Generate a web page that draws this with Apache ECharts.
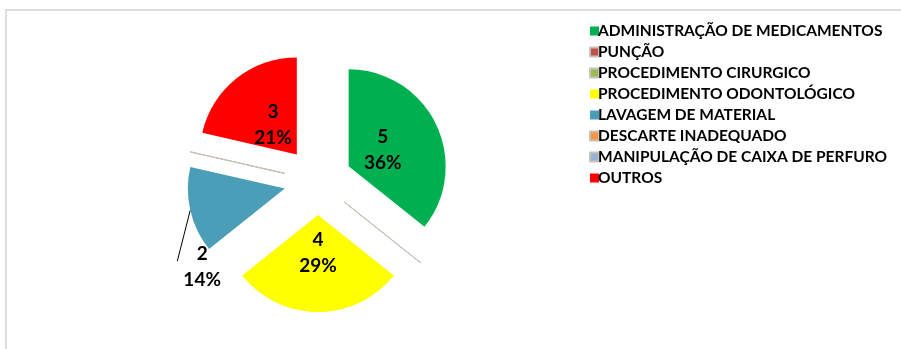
<!DOCTYPE html>
<html>
<head>
<meta charset="utf-8">
<script src="https://cdn.jsdelivr.net/npm/echarts@6/dist/echarts.min.js"></script>
<style>
  html, body { margin: 0; padding: 0; background: #ffffff; }
  #chart { position: absolute; left: 0; top: 0; width: 901px; height: 349px; }
  #frame { position: absolute; left: 5px; top: 9px; width: 896px; height: 340px;
           border-top: 2px solid #dedede; border-left: 2px solid #dedede; pointer-events: none; }
</style>
</head>
<body>
<div id="chart"></div>
<div id="frame"></div>
<script>
// Accident types and number of occurrences
const categories = [
  'ADMINISTRAÇÃO DE MEDICAMENTOS',
  'PUNÇÃO',
  'PROCEDIMENTO CIRURGICO',
  'PROCEDIMENTO ODONTOLÓGICO',
  'LAVAGEM DE MATERIAL',
  'DESCARTE INADEQUADO',
  'MANIPULAÇÃO DE CAIXA DE PERFURO',
  'OUTROS'
];
const counts = [5, 0, 0, 4, 2, 0, 0, 3];

const palette = ['#00b050', '#c0504d', '#9bbb59', '#ffff00', '#4a9eb8', '#f79646', '#95b3d7', '#ff0000'];

const PIE_CENTER = [318, 181];
const PIE_RADIUS = 97;
const EXPLODE = 34;
const OUTSIDE_INDEX = 4; // slice whose label sits outside with a leader line

const valueText = { fontFamily: 'Lato', fontWeight: 'bold', fontSize: 19, lineHeight: 26, color: '#000' };

const chart = echarts.init(document.getElementById('chart'), null, { renderer: 'canvas' });

const pieData = categories.map((name, i) => {
  const item = {
    name,
    value: counts[i],
    selected: true,
    itemStyle: counts[i] === 0
      ? { color: palette[i], borderColor: '#c9c2b8', borderWidth: 1 }
      : { color: palette[i], borderWidth: 0 }
  };
  if (i === OUTSIDE_INDEX) {
    // spacer line + left padding carry the text below and right of the leader line
    item.label = Object.assign({
      show: true,
      formatter: '{g| }\n{v|{c}}\n{v|{d}%}',
      rich: { g: { fontSize: 1, lineHeight: 107 }, v: valueText },
      padding: [0, 0, 0, 123]
    }, valueText);
    item.labelLine = { show: true };
  }
  return item;
});

const labelData = categories.map((name, i) => ({
  name,
  value: counts[i],
  selected: true,
  label: { show: counts[i] > 0 && i !== OUTSIDE_INDEX }
}));

const shared = {
  type: 'pie',
  center: PIE_CENTER,
  startAngle: 90,
  clockwise: true,
  selectedMode: 'multiple',
  selectedOffset: EXPLODE,
  percentPrecision: 0,
  avoidLabelOverlap: false,
  animation: false,
  emphasis: { disabled: true }
};

chart.setOption({
  animation: false,
  legend: {
    orient: 'vertical',
    left: 589,
    top: 23,
    padding: 0,
    icon: 'rect',
    itemWidth: 9,
    itemHeight: 9,
    itemGap: 5,
    selectedMode: false,
    data: categories,
    textStyle: {
      fontFamily: 'Lato', fontWeight: 'bold', fontSize: 15.5, lineHeight: 16,
      color: '#000', padding: [0, 0, 0, -6]
    }
  },
  series: [
    Object.assign({}, shared, {
      name: 'main',
      radius: [0, PIE_RADIUS],
      data: pieData,
      label: Object.assign({ show: false, position: 'outside', formatter: '{c}\n{d}%' }, valueText),
      labelLine: { show: false, lineStyle: { color: '#000', width: 1 } },
      labelLayout: function (p) {
        if (p.dataIndex !== OUTSIDE_INDEX || !p.labelLinePoints) return {};
        const a = p.labelLinePoints[0];
        return {
          align: 'center',
          verticalAlign: 'middle',
          labelLinePoints: [a, [a[0] - 13, a[1] + 51]]
        };
      }
    }),
    // Transparent companion ring: its inside labels sit about a third of the
    // way out from each slice's tip
    Object.assign({}, shared, {
      name: 'labels',
      radius: [0, 70],
      silent: true,
      legendHoverLink: false,
      data: labelData,
      itemStyle: { color: 'rgba(0,0,0,0)', borderWidth: 0 },
      label: Object.assign({ position: 'inside', formatter: '{c}\n{d}%' }, valueText),
      labelLine: { show: false }
    })
  ]
});
</script>
</body>
</html>
